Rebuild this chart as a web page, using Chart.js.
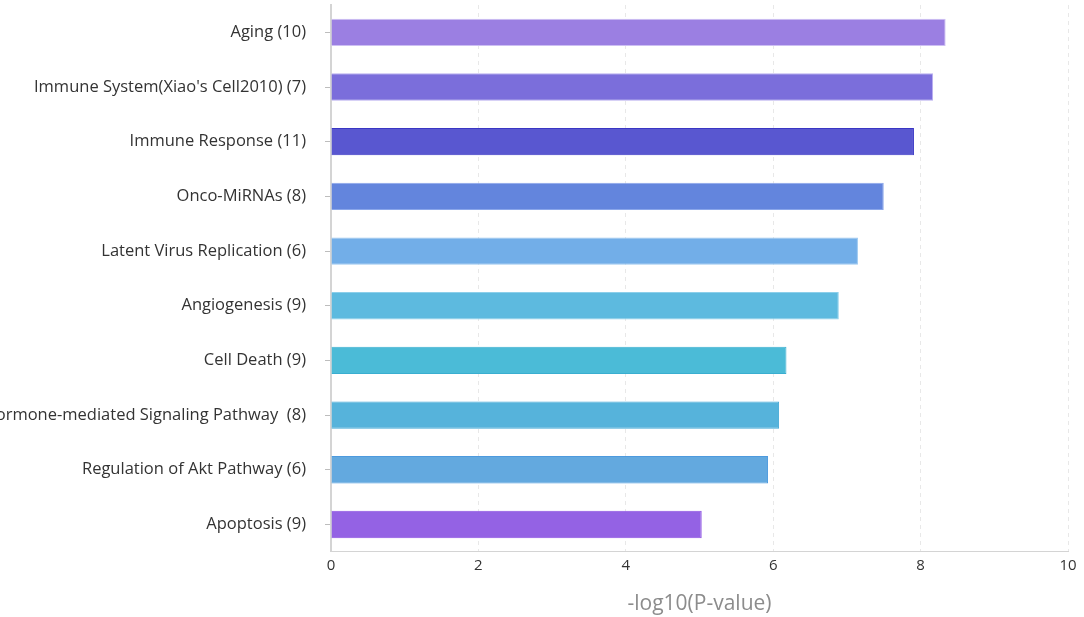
<!DOCTYPE html>
<html>
<head>
<meta charset="utf-8">
<script src="https://cdn.jsdelivr.net/npm/chart.js@4/dist/chart.umd.min.js"></script>
<style>
  html, body { margin: 0; padding: 0; background: #fff; }
  #wrap { position: relative; width: 1084px; height: 617px; }
</style>
</head>
<body>
<div id="wrap"><canvas id="myChart"></canvas></div>
<script>
// pathway names with gene counts
const pathways = [
    'Aging (10)',
    "Immune System(Xiao's Cell2010) (7)",
    'Immune Response (11)',
    'Onco-MiRNAs (8)',
    'Latent Virus Replication (6)',
    'Angiogenesis (9)',
    'Cell Death (9)',
    'Hormone-mediated Signaling Pathway  (8)',
    'Regulation of Akt Pathway (6)',
    'Apoptosis (9)'
];
// -log10(P-value)
const scores = [8.34, 8.17, 7.91, 7.50, 7.15, 6.89, 6.18, 6.08, 5.93, 5.03];
const barColors = [
    '#9b7fe2', '#7b6edb', '#5957d0', '#6385dd', '#72aee8',
    '#5dbadf', '#4bbbd7', '#56b3db', '#63a9df', '#9462e4'
];
const barBorders = [
    '#cdbff3', '#b9aef0', '#3a36c4', '#8aa6ea', '#9cc8f0',
    '#8ccfea', '#3aaed0', '#43a8d6', '#4d9ade', '#8a4fe2'
];
const xTicks = [0, 2, 4, 6, 8, 10];

const ctx = document.getElementById('myChart').getContext('2d');
const myChart = new Chart(ctx, {
    type: 'bar',
    data: {
        labels: pathways,
        datasets: [{
            label: '-log10(P-value)',
            data: scores,
            backgroundColor: barColors,
            borderColor: barBorders,
            borderWidth: 1,
            categoryPercentage: 1,
            barPercentage: 0.5
        }]
    },
    options: {
        indexAxis: 'y',
        responsive: true,
        maintainAspectRatio: false,
        animation: false,
        layout: { padding: { top: 5, right: 16, bottom: 0, left: 0 } },
        plugins: {
            legend: { display: false },
            tooltip: { enabled: false }
        },
        scales: {
            x: {
                min: 0,
                max: 10,
                afterBuildTicks: (scale) => {
                    scale.ticks = xTicks.map(v => ({ value: v }));
                },
                ticks: {
                    color: '#333',
                    padding: 5,
                    font: { family: 'Open Sans', size: 15 }
                },
                grid: {
                    color: (c) => c.tick && c.tick.value === 0 ? 'rgba(0,0,0,0)' : '#e8e8e8',
                    drawTicks: false
                },
                border: { display: true, color: '#d4d4d4', dash: [4, 4], width: 1 },
                title: {
                    display: true,
                    text: '-log10(P-value)',
                    color: '#8c8c8c',
                    padding: { top: 12, bottom: 0 },
                    font: { family: 'Open Sans', size: 21 }
                }
            },
            y: {
                afterFit: (scale) => {
                    scale.width = 331;
                    // label padding should not push the plot area down
                    scale.paddingTop = 0;
                    scale.paddingBottom = 0;
                },
                ticks: {
                    color: '#333',
                    padding: 19,
                    font: { family: 'Open Sans', size: 16.5 }
                },
                grid: {
                    offset: false,
                    drawOnChartArea: false,
                    drawTicks: true,
                    tickLength: 6,
                    color: '#bdbdbd'
                },
                border: { display: true, color: '#d4d4d4', width: 2 }
            }
        }
    }
});
</script>
</body>
</html>
